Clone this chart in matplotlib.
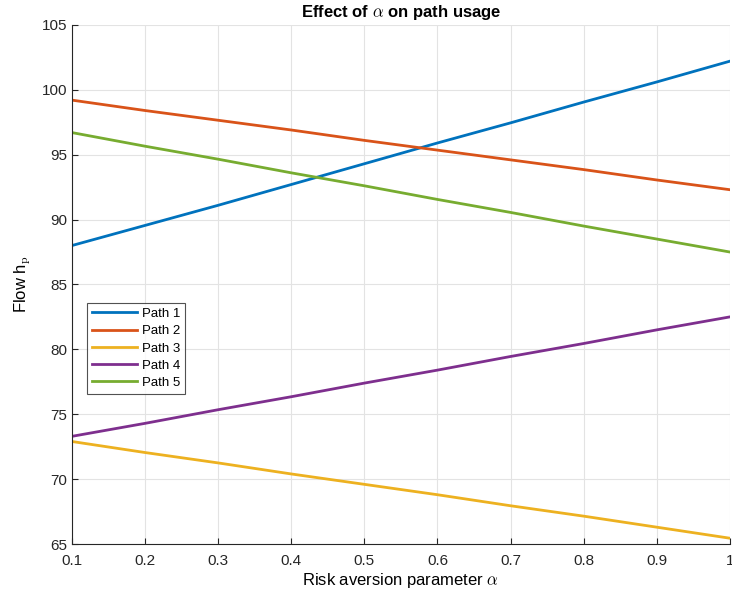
import numpy as np
import matplotlib.pyplot as plt

# Risk aversion parameter
alpha = [0.1, 0.2, 0.3, 0.4, 0.5, 0.6, 0.7, 0.8, 0.9, 1.0]

# Flow on each path
path_1 = [88.0, 89.55, 91.1, 92.7, 94.3, 95.9, 97.45, 99.05, 100.6, 102.2]
path_2 = [99.2, 98.4, 97.65, 96.9, 96.1, 95.35, 94.6, 93.85, 93.05, 92.3]
path_3 = [72.9, 72.05, 71.25, 70.4, 69.6, 68.8, 67.95, 67.15, 66.3, 65.45]
path_4 = [73.3, 74.3, 75.35, 76.35, 77.4, 78.4, 79.45, 80.45, 81.5, 82.5]
path_5 = [96.7, 95.65, 94.65, 93.6, 92.6, 91.55, 90.55, 89.5, 88.5, 87.5]

series = [path_1, path_2, path_3, path_4, path_5]
labels = ["Path 1", "Path 2", "Path 3", "Path 4", "Path 5"]
colors = ["#0072BD", "#D95319", "#EDB120", "#7E2F8E", "#77AC30"]

x_ticks = [0.1, 0.2, 0.3, 0.4, 0.5, 0.6, 0.7, 0.8, 0.9, 1]
y_ticks = [65, 70, 75, 80, 85, 90, 95, 100, 105]

plt.rcParams['font.family'] = ['Liberation Sans', 'DejaVu Sans']
plt.rcParams['mathtext.fontset'] = 'cm'

fig = plt.figure(figsize=(7.32, 5.92), dpi=100)
ax = fig.add_axes([0.0984, 0.081, 0.8986, 0.877])

for vals, lab, col in zip(series, labels, colors):
	ax.plot(alpha, vals, color=col, linewidth=2, label=lab)

ax.set_xlim(0.1, 1)
ax.set_ylim(65, 105)
ax.set_xticks(x_ticks)
ax.set_xticklabels([str(t) for t in x_ticks])
ax.set_yticks(y_ticks)
ax.grid(True, color='#e3e3e3', linewidth=0.8)
ax.set_axisbelow(True)
ax.tick_params(direction='in', labelsize=11, colors='#262626', length=4, width=0.8)
ax.tick_params(axis='x', pad=7)
for side in ['top', 'right']:
	ax.spines[side].set_visible(False)
for side in ['left', 'bottom']:
	ax.spines[side].set_color('#262626')
	ax.spines[side].set_linewidth(0.8)

ax.set_title(r"Effect of $\alpha$ on path usage", fontsize=12, fontweight='bold', pad=6)
ax.set_xlabel(r"Risk aversion parameter $\alpha$", fontsize=12, labelpad=2)
ax.set_ylabel(r"Flow h$_\mathrm{p}$", fontsize=12, labelpad=6)

leg = ax.legend(loc='upper left', bbox_to_anchor=(0.0228, 0.464), borderaxespad=0,
	fontsize=9.5, frameon=True, fancybox=False, edgecolor='#262626',
	handlelength=3.4, borderpad=0.35, labelspacing=0.38, handletextpad=0.4)
leg.get_frame().set_linewidth(0.8)

fig.savefig("out.png", dpi=100)
